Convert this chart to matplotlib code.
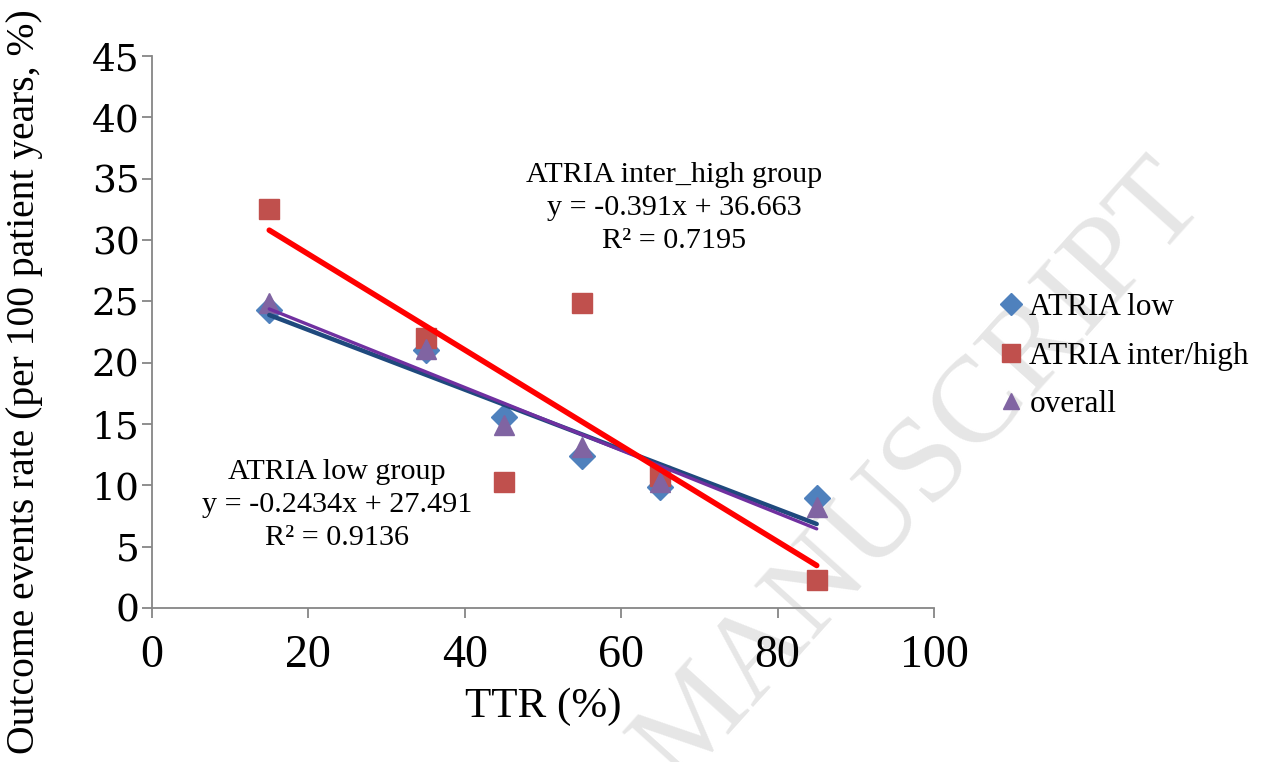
import numpy as np
import matplotlib.pyplot as plt

# valores
ttr = [15, 35, 45, 55, 65, 85]
atria_low = [24.3, 21.0, 15.6, 12.4, 9.9, 9.0]
atria_high = [32.5, 22.0, 10.3, 24.9, 10.8, 2.3]
overall = [24.9, 21.1, 14.9, 13.1, 10.3, 8.2]

x_ticks = [0, 20, 40, 60, 80, 100]
y_ticks = [0, 5, 10, 15, 20, 25, 30, 35, 40, 45]

eq_high = "ATRIA inter_high group\ny = -0.391x + 36.663\nR² = 0.7195"
eq_low = "ATRIA low group\ny = -0.2434x + 27.491\nR² = 0.9136"

SERIF = ["Liberation Serif", "DejaVu Serif"]

fig = plt.figure(figsize=(12.61, 7.62), dpi=100)
ax = fig.add_axes([0.1205, 0.2021, 0.6202, 0.7244])
ax.patch.set_alpha(0)

# marca de agua
fig.text(0.94, 0.76, "ACCEPTED MANUSCRIPT", rotation=48, rotation_mode="anchor",
         ha="right", va="center", fontsize=88, color="#e6e6e6",
         family=SERIF, zorder=-1)

ax.plot(ttr, atria_low, "D", color="#4F81BD", ms=13, label="ATRIA low", zorder=2)
ax.plot(ttr, atria_high, "s", color="#C0504D", ms=15, label="ATRIA inter/high", zorder=2)
ax.plot(ttr, overall, "^", color="#8064A2", ms=14, label="overall", zorder=2)

# líneas de tendencia
xs = np.array([min(ttr), max(ttr)])
for ys, col, lw in [(atria_low, "#1F497D", 3.2), (overall, "#7030A0", 2.4),
                    (atria_high, "#FF0000", 4.0)]:
    m, b = np.polyfit(ttr, ys, 1)
    ax.plot(xs, m * xs + b, color=col, lw=lw, solid_capstyle="round", zorder=3)

ax.text(66.8, 32.6, eq_high, ha="center", va="center", fontsize=21.7,
        family=SERIF, linespacing=1.34)
ax.text(23.7, 8.4, eq_low, ha="center", va="center", fontsize=21.7,
        family=SERIF, linespacing=1.34)

ax.set_xlim(0, 100)
ax.set_ylim(0, 45)
ax.set_xticks(x_ticks)
ax.set_yticks(y_ticks)
for s in ["top", "right"]:
    ax.spines[s].set_visible(False)
for s in ["left", "bottom"]:
    ax.spines[s].set_color("#868686")
    ax.spines[s].set_linewidth(1.3)
ax.tick_params(direction="out", length=7, width=1.3, color="#868686")
ax.tick_params(axis="x", labelsize=33, pad=12)
ax.tick_params(axis="y", labelsize=27, pad=2)
for t in ax.get_xticklabels():
    t.set_family(SERIF)
for t in ax.get_yticklabels():
    t.set_family(["DejaVu Serif"])

ax.set_xlabel("TTR (%)", fontsize=31, family=SERIF, labelpad=8)
fig.text(25 / 1261, 1 - 382 / 762, "Outcome events rate (per 100 patient years, %)",
         rotation=90, ha="center", va="center", fontsize=28.5, family=SERIF)

ax.legend(loc="center left", bbox_to_anchor=(1.05, 0.4565), frameon=False,
          prop={"family": SERIF, "size": 22.5}, handlelength=0.6,
          handletextpad=0.3, labelspacing=0.62, markerscale=0.85)

fig.savefig("out.png", dpi=100)
